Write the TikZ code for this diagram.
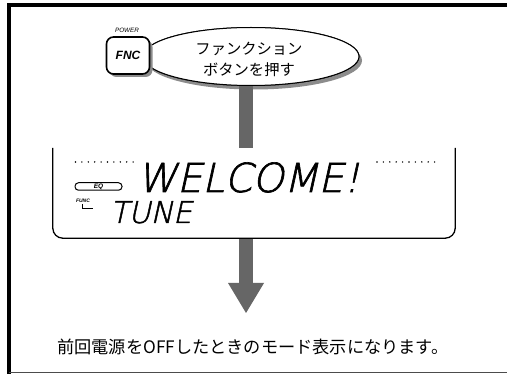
\documentclass[tikz,border=0pt]{standalone}
\usepackage{fontspec}
\usetikzlibrary{shapes.geometric,arrows.meta,shadows,calc}
\newfontfamily\jpfont{Noto Sans CJK JP}
\newfontfamily\lsans{Liberation Sans}
\newfontfamily\lcdfont[FakeSlant=0.22, FakeBold=1.6]{DejaVu Sans ExtraLight}
\definecolor{bargray}{HTML}{666666}
\definecolor{shadowgray}{HTML}{8C8C8C}
\begin{document}
\begin{tikzpicture}[x=1pt,y=-1pt,
  bar/.style={line width=14pt, draw=bargray},
  shad/.style={drop shadow={shadow xshift=3pt, shadow yshift=-4pt, fill=shadowgray, opacity=1}},
  jp/.style={font=\jpfont\fontsize{#1}{#1}\selectfont, inner sep=0pt},
]
\useasboundingbox (0,0) rectangle (507,374);
\fill[white] (0,0) rectangle (507,374);
% frame
\draw[line width=4pt] (507,5) -- (8.5,5) -- (8.5,374);
\draw[line width=0.8pt, black!70] (8.5,372.5) -- (507,372.5);

\coordinate (axis) at (246,0);
\coordinate (tip) at (246,313);

% LCD panel (open at top)
\node[minimum width=402pt, minimum height=90pt, inner sep=0pt] (lcd) at (254,193) {};

% bubble
\node[ellipse, draw, line width=1pt, fill=white, shad,
      minimum width=216pt, minimum height=58pt] (bubble) at (251,56.5) {};

% bars
\draw[bar] (bubble.south -| axis) -- (lcd.north -| axis);
\draw[bar, -{Triangle[width=36pt 0, length=30pt 0, line width=0pt]}] (lcd.south -| axis) -- (tip);

% redraw bubble on top of bar
\node[ellipse, draw, line width=1pt, fill=white,
      minimum width=216pt, minimum height=58pt] (bubble2) at (bubble.center) {};
\node[font=\jpfont\fontsize{15.3}{20.5}\selectfont, align=center, inner sep=0pt]
  (btext) at (249,59.5) {ファンクション\\ボタンを押す};

% FNC button
\node[draw, line width=1.6pt, rounded corners=7pt, minimum width=43pt, minimum height=37pt,
      fill=white, drop shadow={shadow xshift=3pt, shadow yshift=-3pt, fill=shadowgray, opacity=1},
      font=\lsans\bfseries\itshape\fontsize{12}{12}\selectfont, inner sep=0pt]
  (fnc) at (128,55.5) {FNC};
\node[font=\lsans\itshape\fontsize{6.3}{6.3}\selectfont, inner sep=0pt] (power) at (127,30) {POWER};

% LCD outline
\draw[line width=1.3pt, rounded corners=10pt]
  (lcd.north west) -- (lcd.south west) -- (lcd.south east) -- (lcd.north east);

% dotted rules
\draw[line width=1.6pt, line cap=round, dash pattern=on 0pt off 6.4pt] (75.5,162) -- (134,162);
\draw[line width=1.6pt, line cap=round, dash pattern=on 0pt off 6.4pt] (377,162) -- (435,162);

% LCD texts
\node[anchor=base west, inner sep=0pt, font=\lcdfont\fontsize{40}{40}\selectfont]
  (welcome) at (137,192) {WELCOME!};
\node[anchor=base west, inner sep=0pt, font=\lcdfont\fontsize{30}{30}\selectfont]
  (tune) at (110,223) {TUNE};

\node[draw, line width=1pt, rounded corners=3.5pt, minimum width=47pt, minimum height=7.5pt,
      inner sep=0pt, font=\lsans\bfseries\itshape\fontsize{6.5}{6.5}\selectfont]
  (eq) at (98.5,186.5) {EQ};
\node[font=\lsans\bfseries\itshape\fontsize{5}{5}\selectfont, inner sep=0pt] (func) at (83,201) {FUNC};
\draw[line width=0.6pt] ($(func.south)+(-1,1.5)$) |- ++(11,4);

% message
\node[jp=17.2] (msg) at (253,347) {前回電源をOFFしたときのモード表示になります。};
\end{tikzpicture}
\end{document}
